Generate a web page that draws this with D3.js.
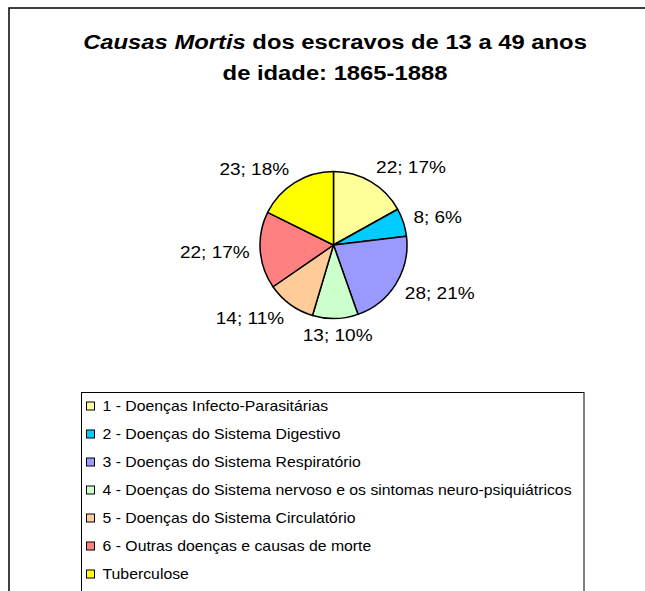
<!DOCTYPE html>
<html>
<head>
<meta charset="utf-8">
<script src="https://cdn.jsdelivr.net/npm/d3@7"></script>
<style>
  body { margin: 0; background: #fff; overflow: hidden; }
  text { font-family: "Liberation Sans", Arial, sans-serif; fill: #000; }
</style>
</head>
<body>
<script>
// chart data
var categories = [
  "1 - Doenças Infecto-Parasitárias",
  "2 - Doenças do Sistema Digestivo",
  "3 - Doenças do Sistema Respiratório",
  "4 - Doenças do Sistema nervoso e os sintomas neuro-psiquiátricos",
  "5 - Doenças do Sistema Circulatório",
  "6 - Outras doenças e causas de morte",
  "Tuberculose"
];
var deaths = [22, 8, 28, 13, 14, 22, 23];
var percents = ["17%", "6%", "21%", "10%", "11%", "17%", "18%"];
var colours = ["#FFFF99", "#00CCFF", "#9999FF", "#CCFFCC", "#FFCC99", "#FF8080", "#FFFF00"];

// svg variables
var width = 645;
var height = 591;

var svg = d3.select("body")
  .append("svg")
  .style("display", "block")
  .attr("width", width)
  .attr("height", height);

// outer chart frame: only its top and left edges are inside the picture
svg.append("path")
  .attr("d", "M9," + (height + 5) + "V8H" + (width + 5))
  .attr("fill", "none")
  .attr("stroke", "#000")
  .attr("stroke-width", 1.5);

// helper for text that is a bit wider than plain Arial, like the picture
function stretchedText(g, x, y, anchor, size, stretch) {
  return g.append("text")
    .attr("transform", "translate(" + x + "," + y + ") scale(" + stretch + ",1)")
    .attr("text-anchor", anchor)
    .style("font-size", size + "px");
}

// title
var titleStretch = 1.19;
var title1 = stretchedText(svg, 335, 49, "middle", 20, titleStretch).style("font-weight", "bold");
title1.append("tspan").style("font-style", "italic").text("Causas Mortis");
title1.append("tspan").text(" dos escravos de 13 a 49 anos");
stretchedText(svg, 335, 80, "middle", 20, titleStretch)
  .style("font-weight", "bold")
  .text("de idade: 1865-1888");

// pie
var cx = 333.5;
var cy = 245;
var radius = 73.5;
var labelRadius = 84;

var pie = d3.pie().sort(null).value(function(d) { return d; });
var arc = d3.arc().innerRadius(0).outerRadius(radius);
var slices = pie(deaths);

var pieGroup = svg.append("g")
  .attr("transform", "translate(" + cx + "," + cy + ")");

pieGroup.selectAll("path")
  .data(slices)
  .enter()
  .append("path")
  .attr("d", arc)
  .attr("fill", function(d, i) { return colours[i]; })
  .attr("stroke", "#000")
  .attr("stroke-width", 1.5)
  .attr("stroke-linejoin", "round");

// data labels "value; percent", placed next to the pie edge
var labelSize = 17;
var labelStretch = 1.12;
slices.forEach(function(d, i) {
  var a = (d.startAngle + d.endAngle) / 2;
  var px = labelRadius * Math.sin(a);
  var py = -labelRadius * Math.cos(a);
  var t = stretchedText(pieGroup, 0, 0, "middle", labelSize, labelStretch)
    .text(deaths[i] + "; " + percents[i]);
  var w = t.node().getComputedTextLength() * labelStretch;
  var h = 12.5;
  var fx = Math.max(-1, Math.min(1, Math.sin(a) * 2.5));
  var fy = Math.max(-1, Math.min(1, -Math.cos(a)));
  var x = px + fx * w / 2;
  var y = py + fy * h / 2 + h / 2;
  t.attr("transform", "translate(" + x + "," + y + ") scale(" + labelStretch + ",1)");
});

// legend
var legendX = 81.5;
var legendY = 392.5;
svg.append("rect")
  .attr("x", legendX)
  .attr("y", legendY)
  .attr("width", 502.5)
  .attr("height", 260)
  .attr("fill", "#fff")
  .attr("stroke", "#000")
  .attr("stroke-width", 1);

var rowScale = d3.scalePoint()
  .domain(categories)
  .range([406, 574]);

var legend = svg.append("g");
categories.forEach(function(c, i) {
  var y = rowScale(c);
  legend.append("rect")
    .attr("x", 86.5)
    .attr("y", y - 4)
    .attr("width", 8)
    .attr("height", 8)
    .attr("fill", colours[i])
    .attr("stroke", "#000")
    .attr("stroke-width", 1);
  stretchedText(legend, 102.5, y + 5, "start", 14, 1.13).text(c);
});
</script>
</body>
</html>
